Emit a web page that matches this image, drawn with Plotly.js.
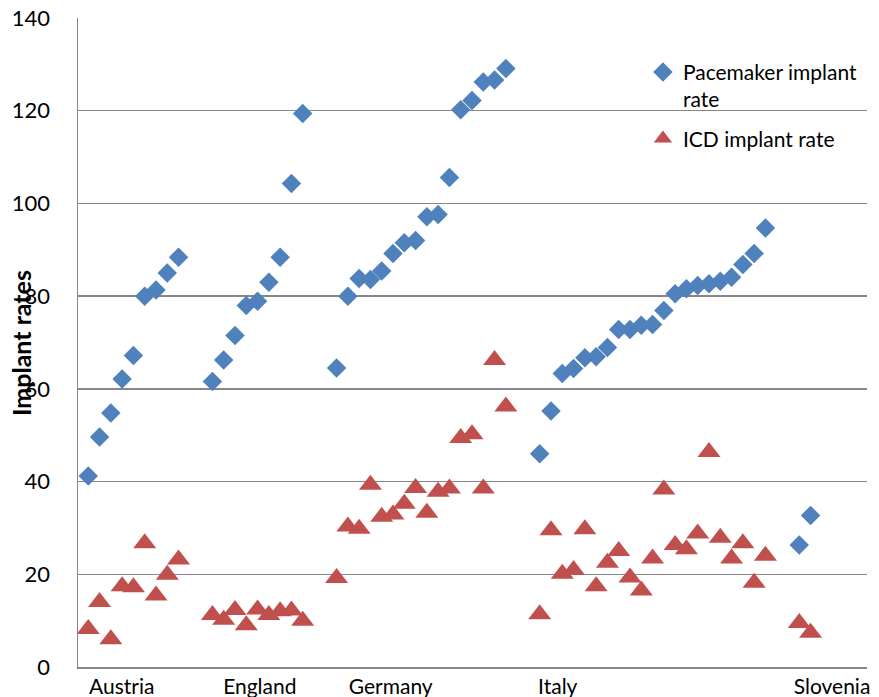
<!DOCTYPE html>
<html>
<head>
<meta charset="utf-8">
<script src="https://cdn.plot.ly/plotly-3.0.1.min.js"></script>
<style>
  html, body { margin: 0; padding: 0; background: #ffffff; }
  #chart { width: 879px; height: 697px; }
</style>
</head>
<body>
<div id="chart"></div>
<script>
// ---- Data ----
const countries = ['Austria', 'England', 'Germany', 'Italy', 'Slovenia'];

const pacemakerAustria  = [41.2, 49.6, 54.8, 62.1, 67.2, 80.0, 81.3, 85.0, 88.4];
const pacemakerEngland  = [61.6, 66.2, 71.5, 78.0, 78.9, 83.0, 88.4, 104.3, 119.4];
const pacemakerGermany  = [64.5, 80.0, 83.8, 83.6, 85.4, 89.2, 91.5, 92.0, 97.1, 97.6, 105.6, 120.2, 122.2, 126.2, 126.6, 129.1];
const pacemakerItaly    = [46.0, 55.2, 63.3, 64.4, 66.7, 66.9, 68.9, 72.8, 72.8, 73.7, 73.9, 76.9, 80.5, 81.6, 82.3, 82.7, 83.2, 84.1, 86.8, 89.2, 94.7];
const pacemakerSlovenia = [26.3, 32.7];

const icdAustria  = [8.2, 14.0, 6.0, 17.4, 17.2, 26.7, 15.4, 19.9, 23.2];
const icdEngland  = [11.2, 10.2, 12.3, 9.0, 12.4, 11.2, 12.0, 12.2, 10.0];
const icdGermany  = [19.2, 30.3, 29.8, 39.3, 32.4, 32.9, 35.2, 38.6, 33.3, 37.8, 38.5, 49.4, 50.2, 38.5, 66.2, 56.2];
const icdItaly    = [11.4, 29.5, 20.1, 20.9, 29.7, 17.4, 22.5, 25.0, 19.3, 16.5, 23.4, 38.3, 26.3, 25.4, 28.8, 46.4, 27.9, 23.4, 26.7, 18.2, 24.0];
const icdSlovenia = [9.5, 7.4];

// category label positions along the index axis (as in the reference)
const countryLabelPos = [2.96, 15.2, 26.8, 41.6, 65.9];

// ---- Build the series (empty categories between countries) ----
const pmGroups  = [pacemakerAustria, pacemakerEngland, pacemakerGermany, pacemakerItaly, pacemakerSlovenia];
const icdGroups = [icdAustria, icdEngland, icdGermany, icdItaly, icdSlovenia];
const GAP = 2;

function buildSeries(groups) {
  const xs = [], ys = [];
  let idx = 0;
  groups.forEach(g => {
    g.forEach(v => { xs.push(idx); ys.push(v); idx++; });
    idx += GAP;
  });
  return { xs, ys };
}
const pm = buildSeries(pmGroups);
const icd = buildSeries(icdGroups);

const FONT = 'Lato, "Open Sans", "DejaVu Sans", sans-serif';
const GRID = '#878787';

const traces = [
  {
    type: 'scatter', mode: 'markers',
    name: 'Pacemaker implant<br>rate',
    x: pm.xs, y: pm.ys,
    legendgroup: 'pm',
    marker: { symbol: 'diamond', size: 15, color: '#4F81BD', line: { width: 0 } },
    hoverinfo: 'skip'
  },
  {
    type: 'scatter', mode: 'markers',
    name: 'ICD implant rate',
    x: icd.xs, y: icd.ys,
    legendgroup: 'icd',
    marker: { symbol: 'triangle-up', size: 20, color: '#C0504D', line: { width: 0 } },
    hoverinfo: 'skip'
  }
];

const layout = {
  width: 879, height: 697,
  margin: { l: 78, r: 12, t: 18, b: 30, pad: 0 },
  paper_bgcolor: '#ffffff', plot_bgcolor: '#ffffff',
  font: { family: FONT, size: 21, color: '#000000' },
  showlegend: true,
  legend: {
    x: 0.716, y: 0.948, xanchor: 'left', yanchor: 'top',
    bgcolor: 'rgba(0,0,0,0)',
    font: { family: FONT, size: 21, color: '#000000' },
    traceorder: 'grouped', tracegroupgap: 9,
    valign: 'top', itemwidth: 30
  },
  xaxis: {
    range: [-0.91, 69.0],
    tickmode: 'array',
    tickvals: countryLabelPos,
    ticktext: countries,
    ticks: '', showgrid: false, zeroline: false,
    showline: true, linecolor: GRID, linewidth: 1.5,
    tickfont: { family: FONT, size: 21, color: '#000000' }
  },
  yaxis: {
    range: [0, 140],
    tickmode: 'array',
    tickvals: [0, 20, 40, 60, 80, 100, 120, 140],
    ticks: 'outside', ticklen: 22, tickcolor: 'rgba(0,0,0,0)',
    showgrid: true, gridcolor: GRID, gridwidth: 1.5,
    zeroline: false,
    showline: true, linecolor: GRID, linewidth: 1.5,
    tickfont: { family: FONT, size: 22, color: '#000000' }
  },
  annotations: [
    {
      text: '<b>Implant rates</b>',
      xref: 'paper', yref: 'paper',
      x: -0.073, y: 0.5, xanchor: 'center', yanchor: 'middle',
      textangle: -90, showarrow: false,
      font: { family: FONT, size: 25, color: '#000000' }
    }
  ]
};

Plotly.newPlot('chart', traces, layout, { displayModeBar: false, staticPlot: true });
</script>
</body>
</html>
